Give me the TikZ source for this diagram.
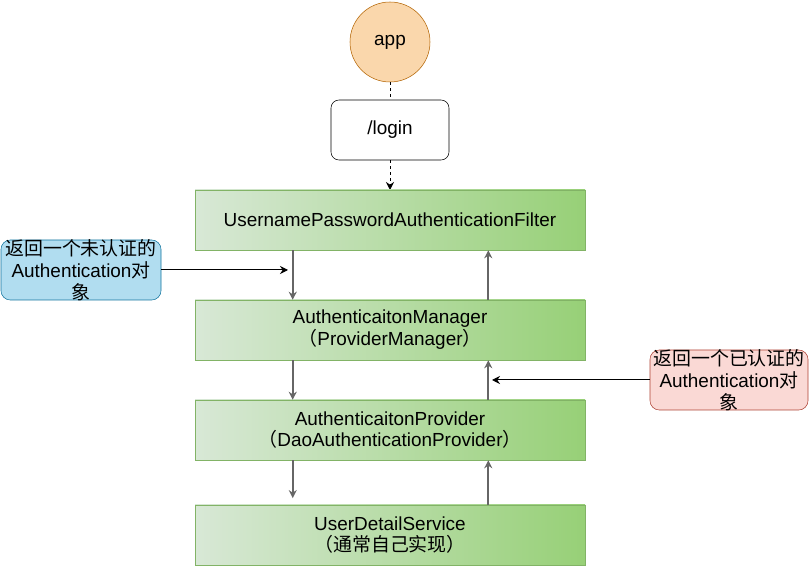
\documentclass[tikz,border=0pt]{standalone}
\usepackage{fontspec}
\setmainfont{Liberation Sans}
\newfontfamily\cjk{Noto Sans CJK SC}
\newcommand{\zh}[1]{{\cjk #1}}
\usetikzlibrary{arrows.meta}
\definecolor{appfill}{HTML}{FAD7AC}
\definecolor{appline}{HTML}{B46504}
\definecolor{greenleft}{HTML}{D8E8D6}
\definecolor{greenright}{HTML}{97D077}
\definecolor{greenline}{HTML}{82B366}
\definecolor{bluefill}{HTML}{B1DDF0}
\definecolor{blueline}{HTML}{10739E}
\definecolor{redfill}{HTML}{FAD9D5}
\definecolor{redline}{HTML}{AE4132}
\definecolor{flowgray}{HTML}{666666}
\tikzset{
    layer/.style={draw=greenline, left color=greenleft, right color=greenright,
        minimum width=292.5pt, minimum height=45pt, inner sep=0pt, align=center},
    note/.style={rounded corners=7pt, minimum height=45pt, inner sep=0pt},
    flow/.style={draw=flowgray, line width=1.3pt, -{Stealth[length=6pt,width=6pt]}},
    hint/.style={line width=0.75pt, -{Stealth[length=6pt,width=6pt]}},
    dotted link/.style={line width=0.75pt, dash pattern=on 2.25pt off 2.25pt},
}

\begin{document}
\begin{tikzpicture}[x=0.75pt, y=-0.75pt,
    every node/.style={font=\fontsize{14.2}{16.4}\selectfont}]
\useasboundingbox (0,0) rectangle (811,566);

% request path
\node[circle, draw=appline, fill=appfill, minimum size=60pt, inner sep=0pt] (app) at (390,42) {app};
\node[draw, rounded corners=6pt, minimum width=88.5pt, minimum height=45pt] (login) at (390,130) {/login};
\draw[dotted link] (app) -- (login);
\draw[dotted link, -{Stealth[length=6pt,width=6pt]}] (login) -- (390,190);

% security chain
\node[layer] (filter) at (390,220) {UsernamePasswordAuthenticationFilter};
\node[layer] (manager) at (390,330) {AuthenticaitonManager\\\zh{（}ProviderManager\zh{）}};
\node[layer] (provider) at (390,430) {AuthenticaitonProvider\\\zh{（}DaoAuthenticationProvider\zh{）}};
\node[layer] (service) at (390,535) {UserDetailService\\\zh{（通常自己实现）}};

\foreach \a/\b in {filter/manager, manager/provider}
    \draw[flow] ([xshift=73.5pt]\a.south west) -- ([xshift=73.5pt]\b.north west);
\draw[flow] ([xshift=73.5pt]provider.south west) -- ([xshift=73.5pt,yshift=5pt]service.north west);
\foreach \a/\b in {service/provider, provider/manager, manager/filter}
    \draw[flow] ([xshift=-72.75pt]\a.north east) -- ([xshift=-72.75pt]\b.south east);

% notes
\node[note, draw=blueline, fill=bluefill, minimum width=120pt] (unauth) at (81,270) {};
\node[align=center] (unauthtext) at (unauth) {\zh{返回一个未认证的}\\Authentication\zh{对}\\\zh{象}};
\coordinate (unauthtip) at (288,270);
\draw[hint] (unauth) -- (unauthtip);

\node[note, draw=redline, fill=redfill, minimum width=118.5pt] (auth) at (729,380) {};
\node[align=center] (authtext) at (auth) {\zh{返回一个已认证的}\\Authentication\zh{对}\\\zh{象}};
\coordinate (authtip) at (492,380);
\draw[hint] (auth) -- (authtip);
\end{tikzpicture}
\end{document}
